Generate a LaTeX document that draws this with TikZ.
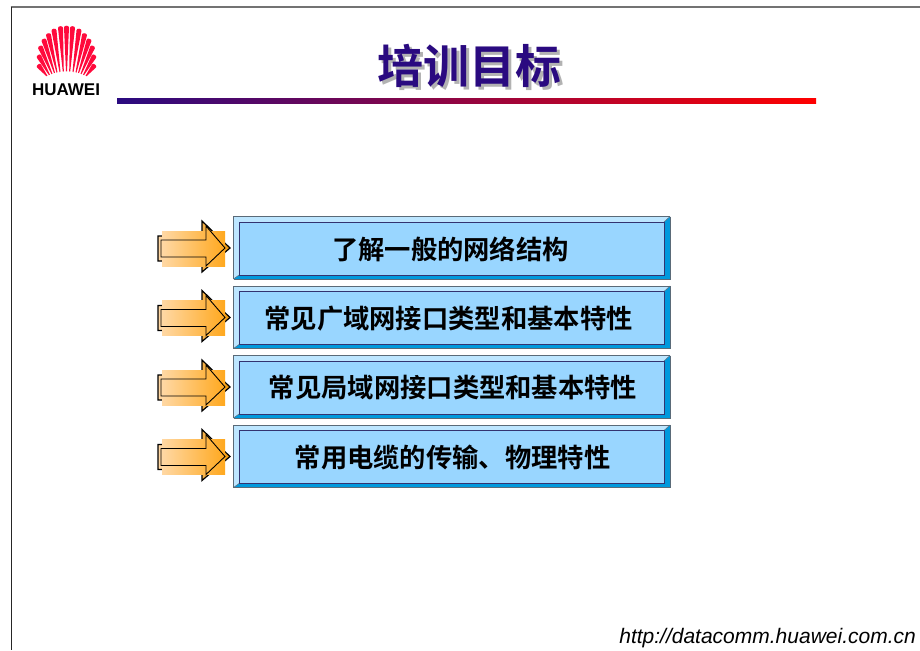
\documentclass[tikz,border=0pt]{standalone}
\usepackage{fontspec}
\setmainfont{Liberation Sans}
\newfontfamily\cjkfont{Noto Sans CJK SC}[BoldFont={Noto Sans CJK SC Bold}]
\usetikzlibrary{calc}
\definecolor{titleblue}{HTML}{2A0A80}
\definecolor{rulered}{HTML}{FF0000}
\definecolor{facecol}{HTML}{99D6FF}
\definecolor{lightbev}{HTML}{BDE6FF}
\definecolor{darkbev}{HTML}{0099DD}
\definecolor{frameline}{HTML}{5A6A78}
\definecolor{petalred}{HTML}{FF0A3C}
\definecolor{arrowback}{HTML}{F09A10}
\definecolor{gradleft}{HTML}{FFD8A4}
\definecolor{gradright}{HTML}{FFA81E}
\tikzset{
  boxlabel/.style={inner sep=0pt,font=\cjkfont\bfseries\fontsize{26.3}{30}\selectfont,text=black},
  titlelabel/.style={inner sep=0pt,font=\cjkfont\bfseries\fontsize{46}{50}\selectfont},
  brandlabel/.style={inner sep=0pt,font=\bfseries\fontsize{17}{20}\selectfont},
  urllabel/.style={inner sep=0pt,font=\itshape\fontsize{21}{24}\selectfont},
  edgeline/.style={draw=frameline,line width=1pt},
  innerline/.style={draw=black!60!blue!60!gray,line width=0.8pt},
  arrowline/.style={draw=black,line width=0.9pt,line join=miter},
  backarrowline/.style={draw=black,line width=1.2pt,line join=miter},
}
\newcommand{\petalshape}[4]{%
  \fill[petalred] ($(#3,#4)!0.5pt!-90:(#1,#2)$)
    -- ($(#1,#2)!2.5pt!90:(#3,#4)$)
    .. controls ($($(#1,#2)!2.5pt!90:(#3,#4)$)!-2.4pt!(#3,#4)$)
       and ($($(#1,#2)!2.5pt!-90:(#3,#4)$)!-2.4pt!(#3,#4)$)
    .. ($(#1,#2)!2.5pt!-90:(#3,#4)$)
    -- ($(#3,#4)!0.5pt!90:(#1,#2)$) -- cycle;}
\newcommand{\trainrow}[4]{%
  \begin{scope}[shift={(0,#2)}]
    % arrow
    \draw[backarrowline,left color=gradleft,right color=arrowback] (158,236) -- (202,236) -- (202,221) -- (230,248) -- (202,272) -- (202,261) -- (158,261) -- cycle;
    \shade[left color=gradleft,right color=gradright] (162,231) rectangle (225,266);
    \draw[arrowline] (161,240) -- (206,240) -- (206,226) -- (225,248) -- (206,266) -- (206,257) -- (161,257) -- cycle;
    % box
    \fill[darkbev] (233.5,216.5) rectangle (670,279);
    \fill[lightbev] (233.5,216.5) -- (670,216.5) -- (664,222) -- (239,222) -- (239,275) -- (233.5,279) -- cycle;
    \fill[facecol] (239,222) rectangle (664,275);
    \draw[edgeline] (233.5,279) -- (233.5,216.5) -- (670,216.5);
    \draw[draw=frameline,line width=0.6pt] (233.5,279) -- (670,279) -- (670,216.5);
    \draw[innerline] (239,275) -- (239,222) -- (664,222) -- (664,275) -- cycle;
    \draw[draw=frameline,line width=0.5pt] (670,216.5) -- (664,222) (233.5,279) -- (239,275);
    \node[boxlabel] (#1) at (#3,249) {#4};
  \end{scope}}
\begin{document}
\begin{tikzpicture}[x=1pt,y=-1pt]
\useasboundingbox (0,0) rectangle (920,650);
\fill[white] (0,0) rectangle (920,650);
% page frame
\draw[draw=black!55,line width=1.2pt] (10.5,7) -- (920,7);
\draw[draw=black!85,line width=1pt] (11,7) -- (11,650);
% logo
\foreach \tx/\ty/\bx/\by in {
  39/66/47/76, 39/56.5/49.5/75, 40.5/47.5/52/74, 44/40.5/54.5/73,
  48.5/35/57/72.5, 54/30.5/60/72, 60.5/28/63.3/71.5}{
  \petalshape{\tx}{\ty}{\bx}{\by}
  \pgfmathsetmacro{\mtx}{133-\tx}
  \pgfmathsetmacro{\mbx}{133-\bx}
  \petalshape{\mtx}{\ty}{\mbx}{\by}
}
\petalshape{66.5}{27.5}{66.5}{71.5}
\node[brandlabel] (brand) at (66,90) {HUAWEI};
% title
\node[titlelabel,text=black!30] (titleshadow) at (472,69) {培训目标};
\node[titlelabel,text=titleblue] (title) at (469,66) {培训目标};
\shade[left color=titleblue,right color=rulered] (117,99) rectangle (816,104);
% rows
\trainrow{rowa}{0}{450.5}{了解一般的网络结构}
\trainrow{rowb}{69.5}{448.5}{常见广域网接口类型和基本特性}
\trainrow{rowc}{139}{453}{常见局域网接口类型和基本特性}
\trainrow{rowd}{208.5}{452.5}{常用电缆的传输、物理特性}
% url
\node[urllabel,anchor=east] (url) at (916,638) {http://datacomm.huawei.com.cn};
\end{tikzpicture}
\end{document}
